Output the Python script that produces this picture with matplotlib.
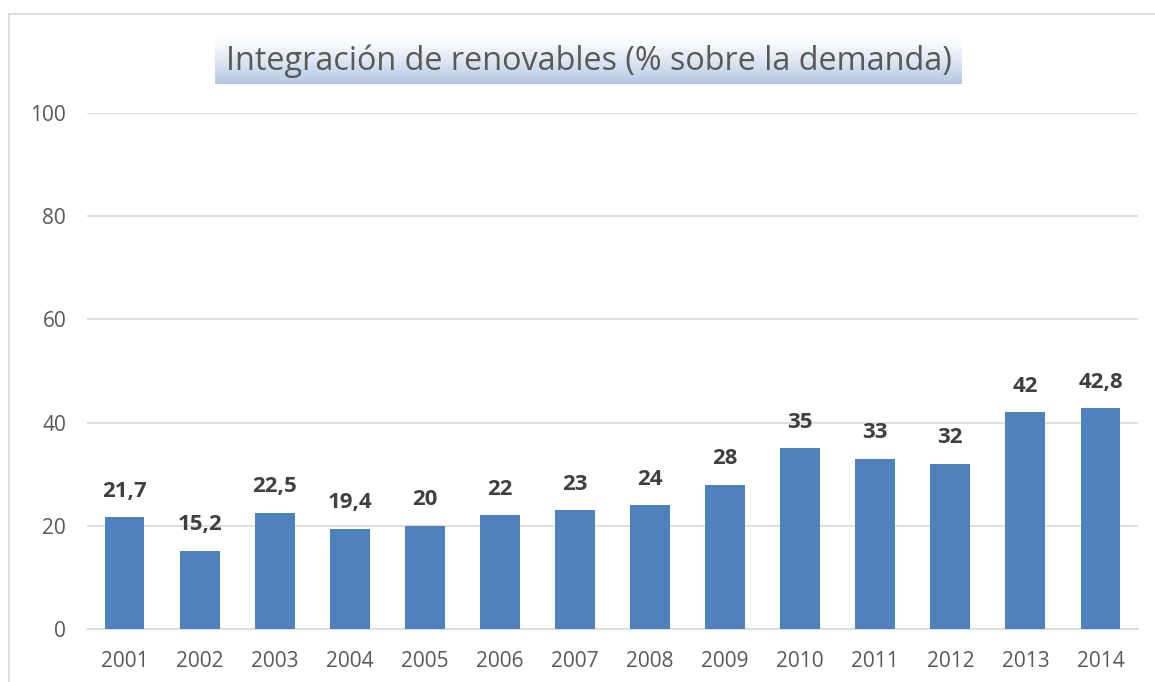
import numpy as np
from matplotlib import pyplot as plt
from matplotlib.lines import Line2D

years = ["2001", "2002", "2003", "2004", "2005", "2006", "2007",
         "2008", "2009", "2010", "2011", "2012", "2013", "2014"]
values = [21.7, 15.2, 22.5, 19.4, 20, 22, 23, 24, 28, 35, 33, 32, 42, 42.8]
labels = ["21,7", "15,2", "22,5", "19,4", "20", "22", "23",
          "24", "28", "35", "33", "32", "42", "42,8"]
yticks = [0, 20, 40, 60, 80, 100]

plt.rcParams['font.family'] = ['Open Sans', 'DejaVu Sans']

fig = plt.figure(figsize=(11.55, 6.82), dpi=100)
W, H = 1155, 682

# chart frame (top and left edge visible)
fig.add_artist(Line2D([9 / W, 1.0], [1 - 14 / H, 1 - 14 / H], color='#d9d9d9', lw=1.2))
fig.add_artist(Line2D([9 / W, 9 / W], [0, 1 - 14 / H], color='#d9d9d9', lw=1.2))

ax = fig.add_axes([87 / W, 1 - 629 / H, (1138 - 87) / W, (629 - 113) / H])
x = np.arange(len(years))
ax.bar(x, values, width=0.53, color='#4f81bd', zorder=3)
for xi, v, lab in zip(x, values, labels):
    ax.text(xi, v + 3.0, lab, ha='center', va='bottom', fontsize=16,
            fontweight='bold', color='#404040')

ax.set_xlim(-0.5, 13.5)
ax.set_ylim(0, 100)
ax.set_yticks(yticks)
ax.set_xticks(x)
ax.set_xticklabels(years)
ax.tick_params(axis='both', length=0, labelsize=15, labelcolor='#595959')
ax.tick_params(axis='y', pad=15)
ax.tick_params(axis='x', pad=16)
ax.grid(axis='y', color='#d9d9d9', lw=1.2, zorder=0)
for side in ['top', 'right', 'left']:
    ax.spines[side].set_visible(False)
ax.spines['bottom'].set_color('#d9d9d9')
ax.spines['bottom'].set_linewidth(1.2)

# title with gradient box
tax = fig.add_axes([215 / W, 1 - 84 / H, (962 - 215) / W, 49 / H])
grad = np.linspace(0, 1, 100) ** 1.3
top = np.array([1.0, 1.0, 1.0])
bot = np.array([0.70, 0.78, 0.89])
img = top + (bot - top) * grad[:, None, None] * np.ones((1, 2, 1))
tax.imshow(img, aspect='auto', extent=[0, 1, 0, 1], origin='upper')
tax.set_axis_off()
tax.text(0.5, 0.47, "Integración de renovables (% sobre la demanda)",
         ha='center', va='center', fontsize=23.3, color='#595959')

plt.savefig("out.png")
